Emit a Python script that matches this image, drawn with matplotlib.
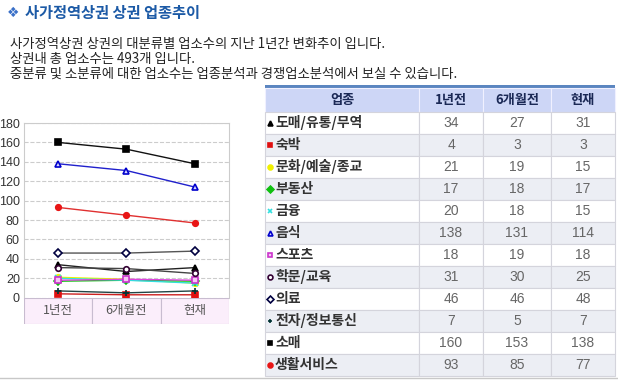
import matplotlib
matplotlib.use('Agg')
import matplotlib.pyplot as plt
from matplotlib.patches import Rectangle

plt.rcParams['font.family'] = ['Noto Sans CJK KR', 'DejaVu Sans']

# data
periods = ['1년전', '6개월전', '현재']
names = ['도매/유통/무역', '숙박', '문화/예술/종교', '부동산', '금융', '음식',
         '스포츠', '학문/교육', '의료', '전자/정보통신', '소매', '생활서비스']
v_1y = [34, 4, 21, 17, 20, 138, 18, 31, 46, 7, 160, 93]
v_6m = [27, 3, 19, 18, 18, 131, 19, 30, 46, 5, 153, 85]
v_now = [31, 3, 15, 17, 15, 114, 18, 25, 48, 7, 138, 77]
yticks = list(range(0, 181, 20))

title = '사가정역상권 상권 업종추이'
desc = ['사가정역상권 상권의 대분류별 업소수의 지난 1년간 변화추이 입니다.',
        '상권내 총 업소수는 493개 입니다.',
        '중분류 및 소분류에 대한 업소수는 업종분석과 경쟁업소분석에서 보실 수 있습니다.']
headers = ['업종', '1년전', '6개월전', '현재']

# styles
colors = ['#000000', '#e01010', '#f0f000', '#10c010', '#30e0e0', '#0000cc',
          '#cc33cc', '#330033', '#000040', '#003333', '#000000', '#e81515']
markers = ['^', 's', 'o', 'D', 'x', '^', 's', 'o', 'D', '+', 's', 'o']
faces = ['#000000', '#e01010', '#f0f000', '#10c010', '#30e0e0', '#d8d8ff',
         '#f4c8f4', '#ffffff', '#ffffff', '#003333', '#000000', '#e81515']
linecols = ['#222222', '#cc2020', '#f0f000', '#10c010', '#30e0e0', '#2020cc',
            '#dd44dd', '#444444', '#555555', '#224444', '#111111', '#e03030']

W, H = 618, 382
fig = plt.figure(figsize=(6.18, 3.82), dpi=100)


def px_axes(x0, y0, x1, y1):
    return fig.add_axes([x0 / W, 1 - y1 / H, (x1 - x0) / W, (y1 - y0) / H])


page = fig.add_axes([0, 0, 1, 1])
page.set_xlim(0, W)
page.set_ylim(H, 0)
page.axis('off')

# title + description
page.text(7, 13, '\u2756', color='#3a70c8', fontsize=10, family='DejaVu Sans', va='center')
page.text(25, 13, title, color='#1c5aa6', fontsize=11, fontweight='bold', va='center')
for i, line in enumerate(desc):
    page.text(10, 44 + i * 15, line, color='#222222', fontsize=9.6, va='center')

# line chart
ax = px_axes(24, 123, 229, 297.7)
for i in range(len(names)):
    ax.plot(range(3), [v_1y[i], v_6m[i], v_now[i]], color=linecols[i], lw=1,
            marker=markers[i], ms=4, mfc=faces[i], mec=colors[i], mew=1.2,
            clip_on=False, zorder=3)
ax.set_xlim(-0.5, 2.5)
ax.set_ylim(0, 180)
ax.set_yticks(yticks)
ax.set_yticklabels([str(t) for t in yticks], family='Liberation Sans', fontsize=9, color='#333333')
ax.set_xticks([])
ax.tick_params(axis='y', length=0, pad=3)
ax.grid(axis='y', ls='--', color='#cccccc', lw=0.8)
for s in ['left', 'top', 'right']:
    ax.spines[s].set_color('#cccccc')
ax.spines['bottom'].set_visible(False)

band = px_axes(24, 297.7, 229, 324)
band.set_xlim(-0.5, 2.5)
band.set_ylim(0, 1)
band.axis('off')
for i, p in enumerate(periods):
    band.add_patch(Rectangle((i - 0.5, 0), 1, 1, fc='#fbeefb', ec='#c8bcd0', lw=0.8))
    band.text(i, 0.5, p, ha='center', va='center', color='#555555', fontsize=9)

# table
cols = [265, 419, 483, 551, 615]
top, hh, rh = 88, 24, 22
page.add_patch(Rectangle((cols[0], 85), cols[-1] - cols[0], 3, fc='#5b86c0', lw=0))
for j, h in enumerate(headers):
    page.add_patch(Rectangle((cols[j], top), cols[j + 1] - cols[j], hh,
                             fc='#cdd6f6', ec='#f0f0ff', lw=0.8))
    page.text((cols[j] + cols[j + 1]) / 2, top + hh / 2, h, ha='center', va='center',
              color='#1a2855', fontsize=9.5, fontweight='bold')

vals = [v_1y, v_6m, v_now]
for i, n in enumerate(names):
    y0 = top + hh + i * rh
    yc = y0 + rh / 2
    fc = '#ffffff' if i % 2 == 0 else '#eceef4'
    for j in range(4):
        page.add_patch(Rectangle((cols[j], y0), cols[j + 1] - cols[j], rh,
                                 fc=fc, ec='#d4d4dc', lw=0.8))
    page.plot(270, yc, marker=markers[i], ms=3.5, mfc=faces[i], mec=colors[i], mew=1.2)
    page.text(275, yc, n, ha='left', va='center', color='#333333', fontsize=10,
              fontweight='bold')
    for j in range(3):
        page.text((cols[j + 1] + cols[j + 2]) / 2, yc, str(vals[j][i]), ha='center',
                  va='center', color='#666666', fontsize=10, family='Liberation Sans')

page.plot([0, W], [378, 378], color='#c8c8c8', lw=1)

fig.savefig('out.png', dpi=100)
